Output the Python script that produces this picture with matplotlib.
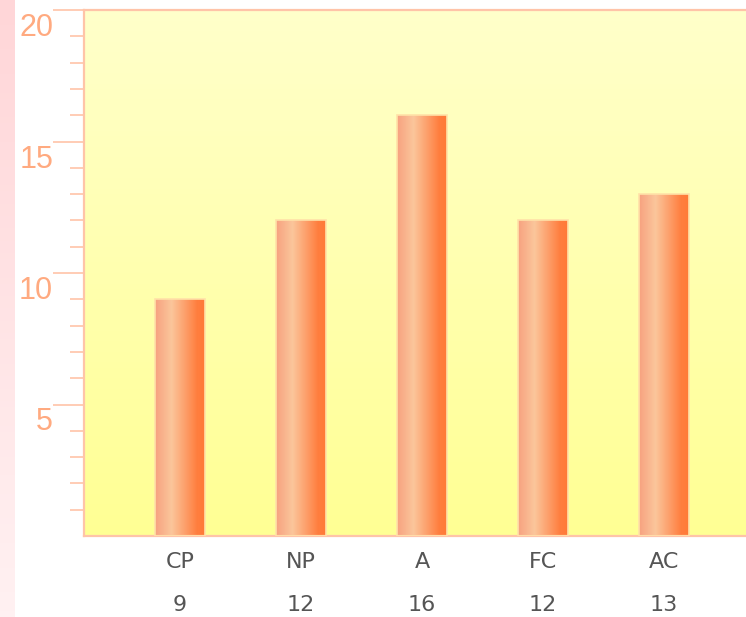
import numpy as np
import matplotlib
matplotlib.use("Agg")
import matplotlib.pyplot as plt
from matplotlib.colors import LinearSegmentedColormap
from matplotlib.transforms import ScaledTranslation

# datos
categorias = ["CP", "NP", "A", "FC", "AC"]
valores = [9, 12, 16, 12, 13]
y_ticks = [5, 10, 15, 20]

fig = plt.figure(figsize=(7.46, 6.17), dpi=100)

# franja rosa de la izquierda
strip = fig.add_axes([0, 0, 15 / 746, 1])
strip.imshow(np.linspace(0, 1, 100).reshape(-1, 1), aspect="auto",
             cmap=LinearSegmentedColormap.from_list("rosa", ["#ffd6d8", "#fff1f2"]),
             extent=[0, 1, 0, 1])
strip.set_axis_off()

ax = fig.add_axes([84 / 746, 81 / 617, 662 / 746, 526 / 617])
x = np.arange(len(categorias))

# fondo amarillo con degradado
fondo = LinearSegmentedColormap.from_list("fondo", ["#ffff94", "#ffffca"])
ax.imshow(np.linspace(0, 1, 100).reshape(-1, 1), aspect="auto", cmap=fondo,
          origin="lower", extent=[-0.793, 4.678, 0, 20], zorder=0)

# barras con degradado horizontal
barra_cmap = LinearSegmentedColormap.from_list(
    "barra", [(0, "#f7a280"), (0.33, "#fbc69b"), (0.6, "#fda06c"),
              (0.85, "#ff7e3e"), (1, "#ff7a38")])
bars = ax.bar(x, valores, width=0.41, facecolor="none",
              edgecolor="#ffe2a8", linewidth=1.2, zorder=3)
for b in bars:
    x0, w, h = b.get_x(), b.get_width(), b.get_height()
    im = ax.imshow(np.linspace(0, 1, 100).reshape(1, -1), aspect="auto",
                   cmap=barra_cmap, extent=[x0, x0 + w, 0, h], zorder=2)
    im.set_clip_path(b)

ax.set_xlim(-0.793, 4.678)
ax.set_ylim(0, 20)

# ejes
for lado in ["left", "top", "bottom"]:
    ax.spines[lado].set_color("#ffc4a8")
    ax.spines[lado].set_linewidth(1.6)
ax.spines["right"].set_visible(False)

ax.set_yticks(y_ticks)
ax.set_yticks(range(1, 20), minor=True)
ax.tick_params(axis="y", which="major", length=22.3, width=1.2, color="#ffc4a8",
               pad=0, labelcolor="#ffaa80", labelsize=22)
ax.tick_params(axis="y", which="minor", length=10, width=1.2, color="#ffc4a8")
bajar = ScaledTranslation(0, -3 / 100, fig.dpi_scale_trans)
for lbl in ax.get_yticklabels():
    lbl.set_fontfamily(["Liberation Sans", "DejaVu Sans"])
    lbl.set_verticalalignment("top")
    lbl.set_transform(lbl.get_transform() + bajar)

ax.set_xticks([])
for i, (c, v) in enumerate(zip(categorias, valores)):
    ax.text(i, -0.049, c, transform=ax.get_xaxis_transform(), ha="center",
            va="center", fontsize=16, color="#555555")
    ax.text(i, -0.131, str(v), transform=ax.get_xaxis_transform(), ha="center",
            va="center", fontsize=16, color="#555555")

fig.savefig("out.png", dpi=100)
